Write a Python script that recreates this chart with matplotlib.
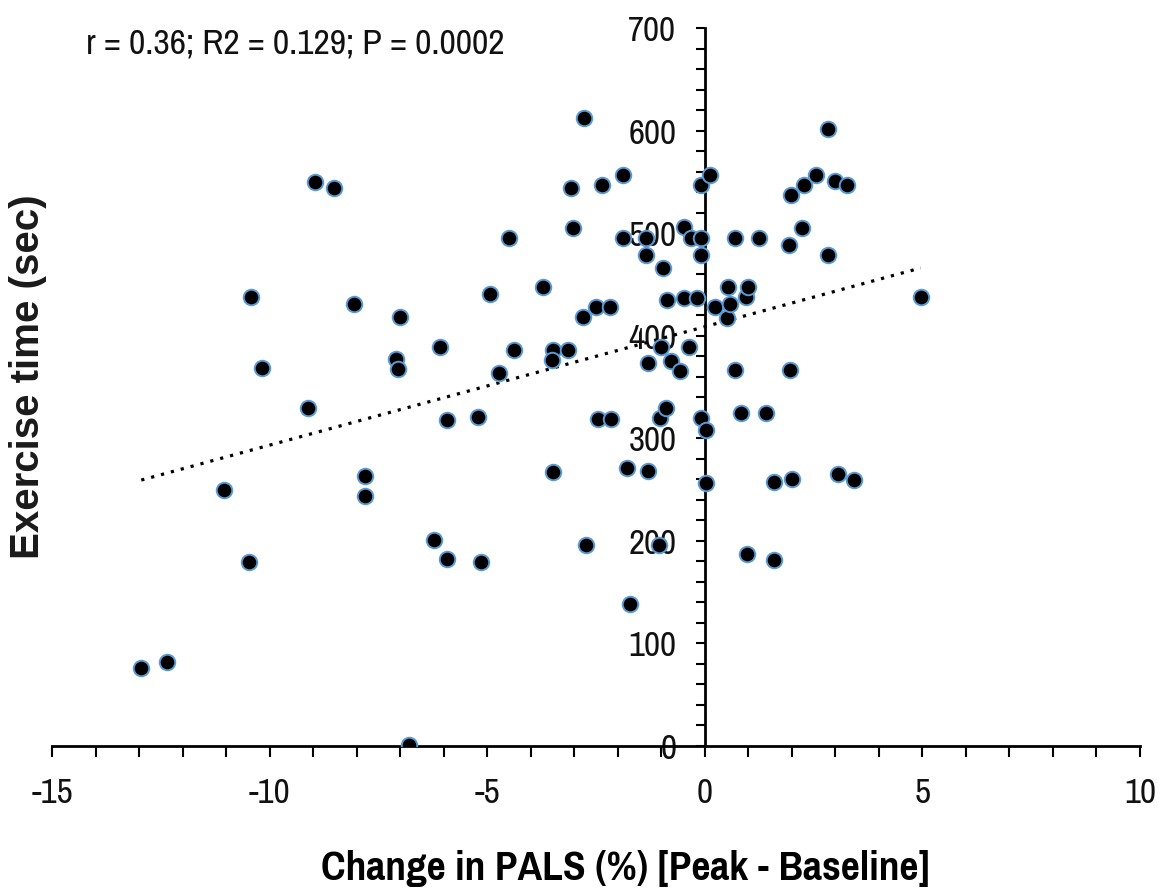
import numpy as np
import matplotlib
matplotlib.use("Agg")
import matplotlib.pyplot as plt
import matplotlib.ticker as ticker
from matplotlib import font_manager

# change in PALS (%) [peak - baseline] vs exercise time (sec)
pals_change = [-12.95, -12.36, -11.06, -10.47, -10.42, -10.18, -9.11, -8.95, -8.53, -8.05,
               -7.80, -7.80, -7.10, -7.06, -7.00, -6.80, -6.22, -6.09, -5.93, -5.93,
               -5.22, -5.15, -4.93, -4.72, -4.51, -4.38, -3.72, -3.50, -3.50, -3.52,
               -3.15, -3.08, -3.02, -2.78, -2.80, -2.72, -2.49, -2.45, -2.37, -2.18,
               -2.16, -1.89, -1.89, -1.78, -1.73, -1.36, -1.36, -1.31, -1.30, -1.06,
               -1.02, -0.90, -1.01, -0.96, -0.88, -0.77, -0.57, -0.47, -0.47, -0.36,
               -0.31, -0.19, -0.08, -0.08, -0.08, -0.08, 0.02, 0.02, 0.11, 0.23,
               0.52, 0.54, 0.57, 0.70, 0.70, 0.82, 0.94, 1.00, 0.98, 1.24,
               1.41, 1.59, 1.59, 1.94, 1.95, 1.99, 2.00, 2.24, 2.28, 2.55,
               2.84, 2.84, 3.00, 3.06, 3.26, 3.42, 4.96]
exercise_time = [76, 82, 250, 179, 438, 369, 330, 550, 544, 431,
                 263, 244, 377, 368, 418, 1, 201, 389, 318, 182,
                 321, 179, 441, 364, 495, 386, 448, 267, 386, 376,
                 386, 544, 505, 612, 418, 196, 428, 319, 547, 428,
                 319, 557, 495, 271, 138, 495, 479, 268, 373, 196,
                 320, 330, 389, 466, 435, 375, 366, 506, 437, 389,
                 495, 437, 495, 479, 547, 320, 308, 256, 557, 428,
                 417, 448, 431, 495, 367, 325, 438, 448, 187, 495,
                 325, 257, 181, 488, 367, 537, 260, 505, 547, 557,
                 602, 479, 551, 265, 547, 259, 438]

stats_text = 'r = 0.36; R2 = 0.129; P = 0.0002'

# pick a narrow sans if one is installed
installed = {f.name for f in font_manager.fontManager.ttflist}
narrow_name = next((n for n in ['Pragati Narrow', 'Archivo Narrow', 'Roboto Condensed']
                    if n in installed), None)
if narrow_name:
    narrow = [narrow_name, 'Liberation Sans', 'DejaVu Sans']
    tick_size, stats_size, xlabel_size = 27.5, 28, 32.5
else:
    narrow = ['Liberation Sans', 'DejaVu Sans']
    tick_size, stats_size, xlabel_size = 22, 21.5, 25

fig = plt.figure(figsize=(11.72, 8.96), dpi=100)
ax = fig.add_axes([0.0444, 0.1674, 0.9283, 0.8013])

x = np.array(pals_change)
y = np.array(exercise_time)

ax.scatter(x, y, s=125, c='black', edgecolors='#5b9bd5', linewidths=1.4, zorder=3)

# linear trendline over the data range
slope, intercept = np.polyfit(x, y, 1)
xs = np.array([x.min(), x.max()])
ax.plot(xs, slope * xs + intercept, color='black', lw=2.3,
        linestyle=(0, (1, 2.2)), zorder=2)

ax.set_xlim(-15, 10)
ax.set_ylim(0, 700)

# axes cross at the origin
ax.spines['left'].set_position(('data', 0))
ax.spines['bottom'].set_position(('data', 0))
ax.spines['top'].set_visible(False)
ax.spines['right'].set_visible(False)
ax.spines['left'].set_linewidth(2)
ax.spines['bottom'].set_linewidth(2)
ax.set_axisbelow(True)

ax.xaxis.set_major_locator(ticker.MultipleLocator(5))
ax.xaxis.set_minor_locator(ticker.MultipleLocator(1))
ax.yaxis.set_major_locator(ticker.MultipleLocator(100))
ax.yaxis.set_minor_locator(ticker.MultipleLocator(20))
ax.tick_params(axis='x', which='both', direction='out', length=8, width=1.5, pad=14)
ax.tick_params(axis='y', which='both', direction='out', length=6.5, width=1.5, pad=14)
ax.xaxis.set_major_formatter(ticker.FormatStrFormatter('%d'))
ax.yaxis.set_major_formatter(ticker.FormatStrFormatter('%d'))
for lab in ax.get_xticklabels() + ax.get_yticklabels():
    lab.set_family(narrow)
    lab.set_fontsize(tick_size)
    lab.set_color('#111111')

fig.text(0.534, 0.031, 'Change in PALS (%) [Peak - Baseline]', family=narrow,
         fontweight='bold', fontsize=xlabel_size, ha='center', va='center')
fig.text(0.024, 0.58, 'Exercise time (sec)', family=['Liberation Sans', 'DejaVu Sans'],
         fontweight='bold', fontsize=29, rotation=90, ha='center', va='center',
         color='#1a1a1a')
fig.text(0.0734, 0.951, stats_text, family=narrow, fontsize=stats_size,
         ha='left', va='center', color='#111111')

fig.savefig('out.png', dpi=100)
